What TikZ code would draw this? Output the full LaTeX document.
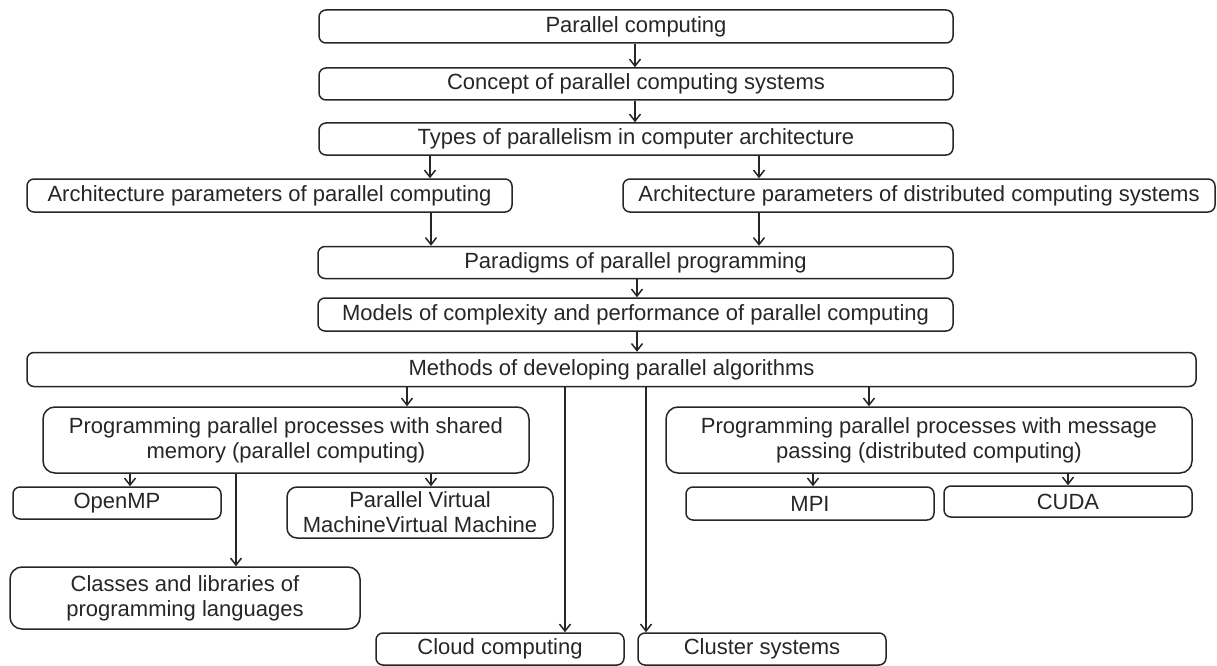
\documentclass[tikz,border=0pt]{standalone}
\usepackage{fontspec}
\setmainfont{Liberation Sans}
\usetikzlibrary{arrows.meta}
\tikzset{
  box/.style={draw=black!85, line width=1.5pt, rounded corners=7pt, inner sep=0pt,
    align=center, font=\fontsize{22}{25}\selectfont, text=black!85},
  arr/.style={draw=black!85, line width=1.5pt, -{Straight Barb[length=7pt,width=11pt,line width=1.5pt]}}
}
\begin{document}
\begin{tikzpicture}[x=1pt,y=-1pt]
\useasboundingbox (0,0) rectangle (1217,666);
% nodes
\node[box, minimum width=634, minimum height=33] (b1) at (636,26.5) {Parallel computing};
\node[box, minimum width=634, minimum height=32] (b2) at (636,84) {Concept of parallel computing systems};
\node[box, minimum width=634, minimum height=32] (b3) at (636,139) {Types of parallelism in computer architecture};
\node[box, minimum width=485, minimum height=33] (b4) at (269.5,195.5) {Architecture parameters of parallel computing};
\node[box, minimum width=592, minimum height=33] (b5) at (919,195.5) {Architecture parameters of distributed computing systems};
\node[box, minimum width=635, minimum height=32] (b6) at (635.5,262.5) {Paradigms of parallel programming};
\node[box, minimum width=635, minimum height=33] (b7) at (635.5,314.5) {Models of complexity and performance of parallel computing};
\node[box, minimum width=1169, minimum height=34] (b8) at (611.5,369.5) {Methods of developing parallel algorithms};
\node[box, minimum width=486, minimum height=66, rounded corners=12pt] (b9) at (286,440) {Programming parallel processes with shared\\memory (parallel computing)};
\node[box, minimum width=526, minimum height=66, rounded corners=12pt] (b10) at (929,440) {Programming parallel processes with message\\passing (distributed computing)};
\node[box, minimum width=208, minimum height=32] (omp) at (117,503) {OpenMP};
\node[box, minimum width=266, minimum height=51, rounded corners=10pt] (pvm) at (420,512.5) {Parallel Virtual\\MachineVirtual Machine};
\node[box, minimum width=350, minimum height=62, rounded corners=12pt] (cls) at (185,598) {Classes and libraries of\\programming languages};
\node[box, minimum width=248, minimum height=33] (mpi) at (810,503.5) {MPI};
\node[box, minimum width=248, minimum height=31] (cuda) at (1068,501.5) {CUDA};
\node[box, minimum width=248, minimum height=32] (cloud) at (500,649) {Cloud computing};
\node[box, minimum width=248, minimum height=32] (clus) at (762,649) {Cluster systems};
% x positions of connectors
\coordinate (xa) at (635,0);
\coordinate (xb) at (430,0);
\coordinate (xc) at (759,0);
\coordinate (xd) at (637,0);
\coordinate (xe) at (407,0);
\coordinate (xf) at (565,0);
\coordinate (xg) at (646,0);
\coordinate (xh) at (869,0);
\coordinate (xi) at (130,0);
\coordinate (xj) at (236,0);
\coordinate (xk) at (431,0);
\coordinate (xl) at (813,0);
\coordinate (xm) at (1068,0);
% connectors
\draw[arr] (b1.south -| xa) -- (b2.north -| xa);
\draw[arr] (b2.south -| xa) -- (b3.north -| xa);
\draw[arr] (b3.south -| xb) -- (b4.north -| xb);
\draw[arr] (b3.south -| xc) -- (b5.north -| xc);
\draw[arr] (b4.south -| xk) -- (b6.north -| xk);
\draw[arr] (b5.south -| xc) -- (b6.north -| xc);
\draw[arr] (b6.south -| xd) -- (b7.north -| xd);
\draw[arr] (b7.south -| xd) -- (b8.north -| xd);
\draw[arr] (b8.south -| xe) -- (b9.north -| xe);
\draw[arr] (b8.south -| xf) -- (cloud.north -| xf);
\draw[arr] (b8.south -| xg) -- (clus.north -| xg);
\draw[arr] (b8.south -| xh) -- (b10.north -| xh);
\draw[arr] (b9.south -| xi) -- (omp.north -| xi);
\draw[arr] (b9.south -| xj) -- (cls.north -| xj);
\draw[arr] (b9.south -| xk) -- (pvm.north -| xk);
\draw[arr] (b10.south -| xl) -- (mpi.north -| xl);
\draw[arr] (b10.south -| xm) -- (cuda.north -| xm);
\end{tikzpicture}
\end{document}
